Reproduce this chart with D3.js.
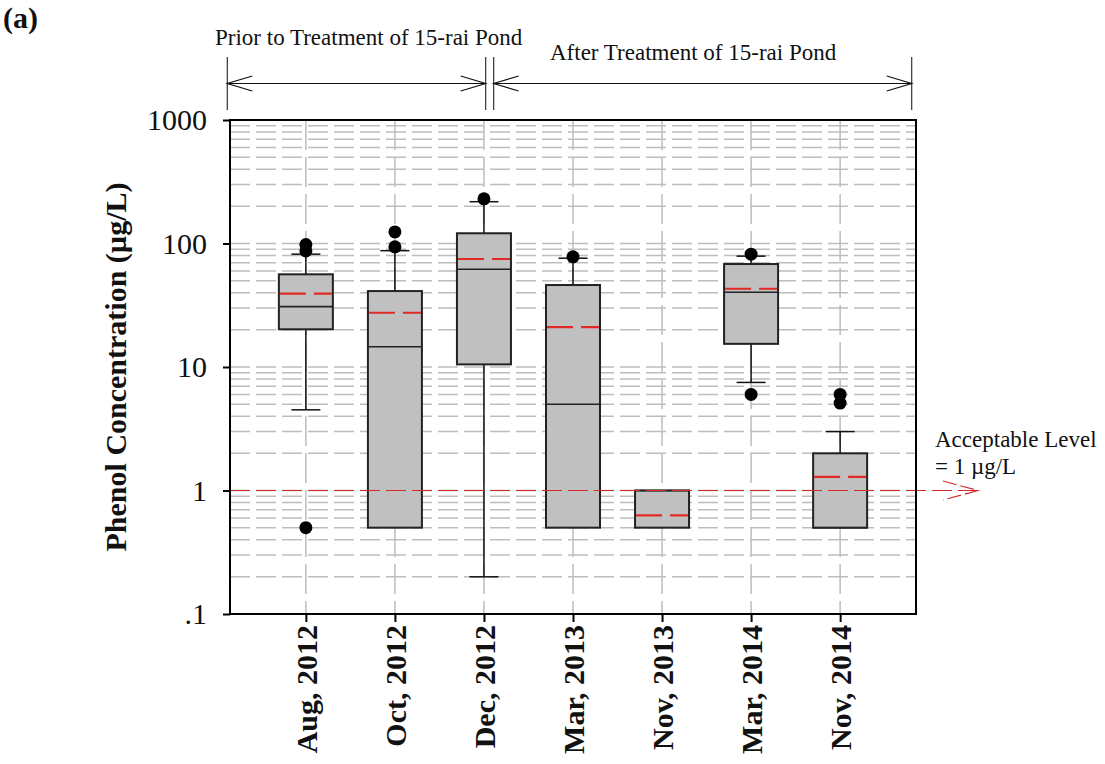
<!DOCTYPE html>
<html>
<head>
<meta charset="utf-8">
<script src="https://cdn.jsdelivr.net/npm/d3@7"></script>
<style>
  html, body { margin: 0; padding: 0; background: #fff; }
  svg { display: block; font-family: "Liberation Serif", "Times New Roman", serif; }
</style>
</head>
<body>
<svg id="chart" width="1105" height="764"></svg>
<script>
// Sampling campaigns
const categories = ["Aug, 2012", "Oct, 2012", "Dec, 2012", "Mar, 2013", "Nov, 2013", "Mar, 2014", "Nov, 2014"];
// Box statistics, phenol in µg/L
const q1Values      = [20.2, 0.5, 10.5, 0.5, 0.5, 15.4, 0.5];
const medianValues  = [30.8, 14.6, 61.8, 5.0, 1.0, 40.3, 0.5];
const q3Values      = [56.3, 41.2, 121, 46.1, 1.0, 68.2, 2.0];
const meanValues    = [39.3, 27.5, 74.9, 21.0, 0.63, 43.0, 1.29];
const whiskerLow    = [4.5, null, 0.2, null, null, 7.5, null];
const whiskerHigh   = [82, 87.5, 218, 76, null, 79, 3.0];
const outlierValues = [[0.5, 87, 98], [94, 124], [230], [78], [], [6, 82], [5.1, 6.0]];
// Axis ticks
const yTickValues = [0.1, 1, 10, 100, 1000];
const yTickLabels = [".1", "1", "10", "100", "1000"];
// Reference level
const acceptableLevel = 1;
// Study periods
const periodLabels = ["Prior to Treatment of 15-rai Pond", "After Treatment of 15-rai Pond"];

(function () {
const svg = d3.select("#chart");
const pLeft = 230, pRight = 916, pTop = 120, pBottom = 614;

const x = d3.scalePoint().domain(categories).range([pLeft, pRight]).padding(0.852);
const y = d3.scaleLog().domain([0.1, 1000]).range([pBottom, pTop]);

const boxW = 54, capW = 29;

// Grid
const grid = svg.append("g");
grid.selectAll("line.h").data(y.ticks()).join("line")
  .attr("x1", pLeft).attr("x2", pRight)
  .attr("y1", d => y(d)).attr("y2", d => y(d))
  .attr("stroke", "#bdbdbd").attr("stroke-width", 1.5)
  .attr("stroke-dasharray", "20,6");
grid.selectAll("line.v").data(categories).join("line")
  .attr("x1", d => x(d)).attr("x2", d => x(d))
  .attr("y1", pTop).attr("y2", pBottom)
  .attr("stroke", "#bdbdbd").attr("stroke-width", 1.5)
  .attr("stroke-dasharray", "30,7");

// Box plot rows
const rows = categories.map((c, i) => ({
  c, q1: q1Values[i], med: medianValues[i], q3: q3Values[i], mean: meanValues[i],
  lo: whiskerLow[i], hi: whiskerHigh[i], out: outlierValues[i]
}));

const marks = svg.append("g");
// whiskers
rows.forEach(r => {
  const g = marks.append("g");
  if (r.hi != null) {
    g.append("line").attr("x1", x(r.c)).attr("x2", x(r.c)).attr("y1", y(r.q3)).attr("y2", y(r.hi))
      .attr("stroke", "#111").attr("stroke-width", 1.5);
    g.append("line").attr("x1", x(r.c) - capW / 2).attr("x2", x(r.c) + capW / 2).attr("y1", y(r.hi)).attr("y2", y(r.hi))
      .attr("stroke", "#111").attr("stroke-width", 1.5);
  }
  if (r.lo != null) {
    g.append("line").attr("x1", x(r.c)).attr("x2", x(r.c)).attr("y1", y(r.q1)).attr("y2", y(r.lo))
      .attr("stroke", "#111").attr("stroke-width", 1.5);
    g.append("line").attr("x1", x(r.c) - capW / 2).attr("x2", x(r.c) + capW / 2).attr("y1", y(r.lo)).attr("y2", y(r.lo))
      .attr("stroke", "#111").attr("stroke-width", 1.5);
  }
});
// boxes
marks.selectAll("rect.box").data(rows).join("rect")
  .attr("x", d => x(d.c) - boxW / 2).attr("width", boxW)
  .attr("y", d => y(d.q3)).attr("height", d => y(d.q1) - y(d.q3))
  .attr("fill", "#c0c0c0").attr("stroke", "#222").attr("stroke-width", 2);
// medians
marks.selectAll("line.med").data(rows).join("line")
  .attr("x1", d => x(d.c) - boxW / 2).attr("x2", d => x(d.c) + boxW / 2)
  .attr("y1", d => y(d.med)).attr("y2", d => y(d.med))
  .attr("stroke", "#222").attr("stroke-width", 1.6);
// means
marks.selectAll("line.mean").data(rows).join("line")
  .attr("x1", d => x(d.c) - boxW / 2 + 1).attr("x2", d => x(d.c) + boxW / 2 - 1)
  .attr("y1", d => y(d.mean)).attr("y2", d => y(d.mean))
  .attr("stroke", "#e02a25").attr("stroke-width", 2.2)
  .attr("stroke-dasharray", "26,8");
// outliers
marks.selectAll("circle").data(rows.flatMap(r => r.out.map(v => ({ c: r.c, v })))).join("circle")
  .attr("cx", d => x(d.c)).attr("cy", d => y(d.v)).attr("r", 6.5).attr("fill", "#000");

// Acceptable level line with open arrowhead
const ya = y(acceptableLevel);
const acc = svg.append("g").attr("stroke", "#d42a2a").attr("stroke-width", 1.1).attr("fill", "none");
acc.append("line").attr("x1", pLeft).attr("x2", 978).attr("y1", ya).attr("y2", ya).attr("stroke-dasharray", "20,6");
acc.append("path").attr("d", `M943,${ya - 9.5}L978,${ya}L943,${ya + 9.5}`).attr("stroke-dasharray", "14,4");
svg.append("text").attr("x", 935).attr("y", 447).attr("font-size", 23).attr("fill", "#111").text("Acceptable Level");
svg.append("text").attr("x", 935).attr("y", 474).attr("font-size", 23).attr("fill", "#111").text("= 1 µg/L");

// Frame
svg.append("rect").attr("x", pLeft).attr("y", pTop).attr("width", pRight - pLeft).attr("height", pBottom - pTop)
  .attr("fill", "none").attr("stroke", "#000").attr("stroke-width", 2);

// Y axis
const yAxis = svg.append("g").attr("transform", `translate(${pLeft},0)`)
  .call(d3.axisLeft(y).tickValues(yTickValues).tickFormat((d, i) => yTickLabels[i]).tickSize(7).tickPadding(16));
yAxis.select(".domain").remove();
yAxis.selectAll(".tick line").attr("stroke", "#000").attr("stroke-width", 2);
yAxis.selectAll("text").attr("font-size", 30).attr("font-family", "Liberation Serif").attr("fill", "#111");

// X axis
const xAxis = svg.append("g").attr("transform", `translate(0,${pBottom})`)
  .call(d3.axisBottom(x).tickSize(8).tickPadding(0));
xAxis.select(".domain").remove();
xAxis.selectAll(".tick line").attr("stroke", "#000").attr("stroke-width", 2);
xAxis.selectAll("text")
  .attr("font-size", 30).attr("font-weight", "bold").attr("font-family", "Liberation Serif").attr("fill", "#111")
  .attr("text-anchor", "end").attr("transform", "rotate(-90)")
  .attr("x", -11).attr("y", 0).attr("dy", "0.35em");

// Y title
svg.append("text").attr("transform", "translate(126,367) rotate(-90)")
  .attr("text-anchor", "middle").attr("font-size", 30).attr("font-weight", "bold").attr("fill", "#111")
  .text("Phenol Concentration (µg/L)");

// Panel label
svg.append("text").attr("x", 3).attr("y", 28).attr("font-size", 30).attr("font-weight", "bold").attr("fill", "#111").text("(a)");

// Study period annotations
const ann = svg.append("g").attr("fill", "none");
const xs = [pLeft - 2.7, x("Dec, 2012") + 1.7, x("Dec, 2012") + 9.7, pRight - 4.3];
ann.selectAll("line.vert").data(xs).join("line")
  .attr("x1", d => d).attr("x2", d => d).attr("y1", 57).attr("y2", 110)
  .attr("stroke", "#333").attr("stroke-width", 1.2);
const spans = [[xs[0], xs[1]], [xs[2], xs[3]]];
const ay = 83.5;
spans.forEach(([a, b]) => {
  ann.append("line").attr("x1", a).attr("x2", b).attr("y1", ay).attr("y2", ay).attr("stroke", "#111").attr("stroke-width", 1.2);
  ann.append("path").attr("d", `M${a + 25},${ay - 7.5}L${a},${ay}L${a + 25},${ay + 7.5}`).attr("stroke", "#111").attr("stroke-width", 1.2);
  ann.append("path").attr("d", `M${b - 25},${ay - 7.5}L${b},${ay}L${b - 25},${ay + 7.5}`).attr("stroke", "#111").attr("stroke-width", 1.2);
});
svg.append("text").attr("x", 215).attr("y", 45).attr("font-size", 23).attr("fill", "#111").text(periodLabels[0]);
svg.append("text").attr("x", 550).attr("y", 60).attr("font-size", 23).attr("fill", "#111").text(periodLabels[1]);
})();
</script>
</body>
</html>
